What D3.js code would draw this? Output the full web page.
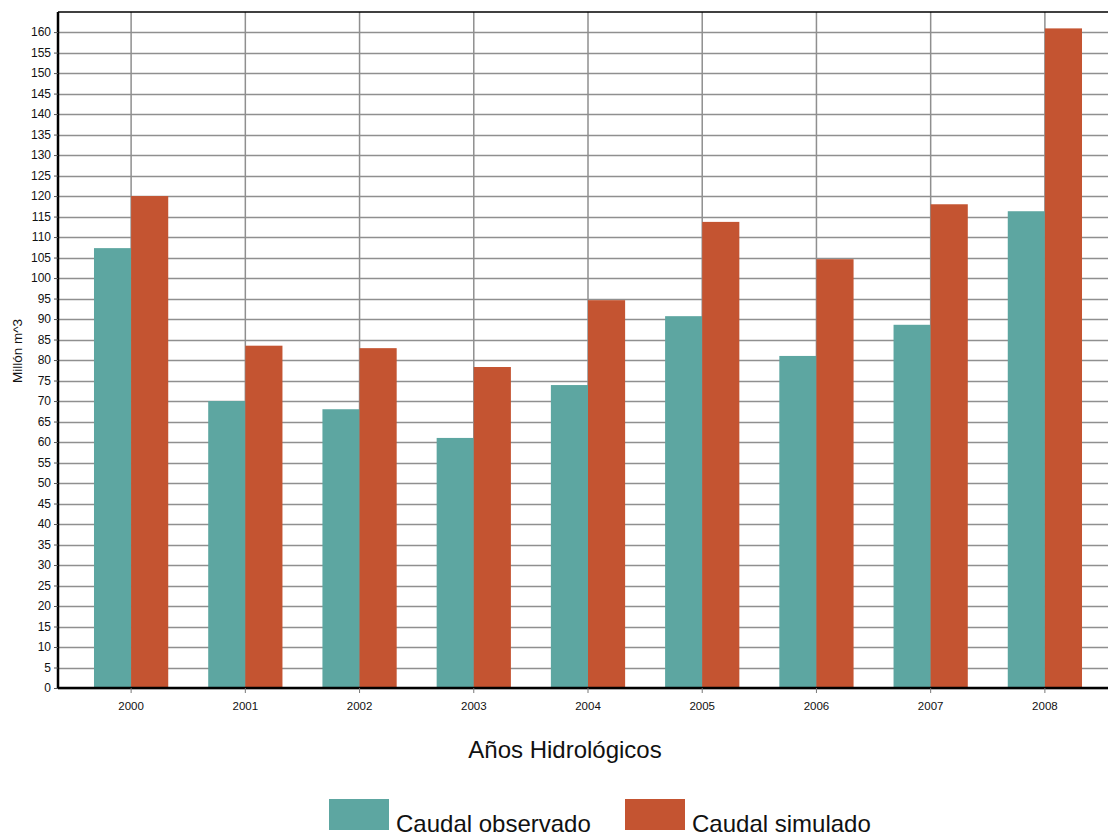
<!DOCTYPE html>
<html>
<head>
<meta charset="utf-8">
<script src="https://cdn.jsdelivr.net/npm/d3@7"></script>
<style>
  html, body { margin: 0; padding: 0; background: #fff; }
  svg { display: block; font-family: "Liberation Sans", Arial, sans-serif; }
</style>
</head>
<body>
<svg id="chart" width="1108" height="838"></svg>
<script>
// Hydrological years and annual flow volumes (million m^3)
const years = ["2000", "2001", "2002", "2003", "2004", "2005", "2006", "2007", "2008"];
const observed = [107.3, 70.0, 68.0, 61.0, 73.9, 90.7, 81.0, 88.6, 116.3];
const simulated = [120.0, 83.5, 82.9, 78.3, 94.6, 113.7, 104.6, 118.0, 160.9];
const seriesNames = ["Caudal observado", "Caudal simulado"];
const seriesColors = ["#5da6a1", "#c45431"];
const yTicks = d3.range(0, 161, 5);

const svg = d3.select("#chart");
const plot = { left: 58, right: 1108, top: 12, bottom: 688 };

const x = d3.scaleBand().domain(years).range([74, 1102]).padding(0);
const inner = d3.scaleBand().domain(seriesNames)
  .range([x.bandwidth() * 0.175, x.bandwidth() * 0.825]).padding(0);
const y = d3.scaleLinear().domain([0, 164.9]).range([plot.bottom, plot.top]);

// horizontal gridlines
svg.append("g").selectAll("line").data(yTicks).join("line")
  .attr("x1", plot.left).attr("x2", plot.right)
  .attr("y1", d => Math.round(y(d)) + 0.5).attr("y2", d => Math.round(y(d)) + 0.5)
  .attr("stroke", "#8f8f8f").attr("stroke-width", 1.5);

// vertical gridlines at category centres
svg.append("g").selectAll("line").data(years).join("line")
  .attr("x1", d => x(d) + x.bandwidth() / 2).attr("x2", d => x(d) + x.bandwidth() / 2)
  .attr("y1", plot.top).attr("y2", plot.bottom)
  .attr("stroke", "#8f8f8f").attr("stroke-width", 1.5);

// bars
const rows = years.map((yr, i) => ({ year: yr, values: [observed[i], simulated[i]] }));
svg.append("g").selectAll("g").data(rows).join("g")
  .attr("transform", d => `translate(${x(d.year)},0)`)
  .selectAll("rect").data(d => d.values.map((v, k) => ({ v, k })))
  .join("rect")
  .attr("x", d => inner(seriesNames[d.k]))
  .attr("width", inner.bandwidth())
  .attr("y", d => y(d.v))
  .attr("height", d => y(0) - y(d.v))
  .attr("fill", d => seriesColors[d.k]);

// frame: top border, left axis, baseline
svg.append("line").attr("x1", plot.left).attr("x2", plot.right)
  .attr("y1", plot.top).attr("y2", plot.top).attr("stroke", "#000").attr("stroke-width", 1.5);

const yAxis = d3.axisLeft(y).tickValues(yTicks).tickSize(4).tickPadding(3);
const gy = svg.append("g").attr("transform", `translate(${plot.left},0)`).call(yAxis);
gy.select(".domain").attr("stroke", "#000").attr("stroke-width", 2.5)
  .attr("d", `M0,${plot.top}V${plot.bottom}`);
gy.selectAll(".tick line").attr("stroke", "#555");
gy.selectAll(".tick text").attr("font-size", 12).attr("fill", "#111")
  .attr("font-family", "Liberation Sans, Arial, sans-serif");

const xAxis = d3.axisBottom(x).tickSize(5).tickPadding(9);
const gx = svg.append("g").attr("transform", `translate(0,${plot.bottom})`).call(xAxis);
gx.select(".domain").attr("stroke", "#000").attr("stroke-width", 2.5)
  .attr("d", `M${plot.left},0H${plot.right}`);
gx.selectAll(".tick line").attr("stroke", "#777");
gx.selectAll(".tick text").attr("font-size", 11.5).attr("fill", "#111")
  .attr("font-family", "Liberation Sans, Arial, sans-serif");

// axis titles
svg.append("text").attr("transform", "translate(22,351) rotate(-90)")
  .attr("text-anchor", "middle").attr("font-size", 13.5).attr("fill", "#111")
  .text("Millón m^3");
svg.append("text").attr("x", 565).attr("y", 758)
  .attr("text-anchor", "middle").attr("font-size", 24).attr("fill", "#111")
  .text("Años Hidrológicos");

// legend
const legendX = [329, 625];
const lg = svg.append("g").selectAll("g").data(seriesNames).join("g")
  .attr("transform", (d, i) => `translate(${legendX[i]},799)`);
lg.append("rect").attr("width", 60).attr("height", 31)
  .attr("fill", (d, i) => seriesColors[i]);
lg.append("text").attr("x", 67).attr("y", 33).attr("font-size", 24).attr("fill", "#111")
  .text(d => d);
</script>
</body>
</html>
